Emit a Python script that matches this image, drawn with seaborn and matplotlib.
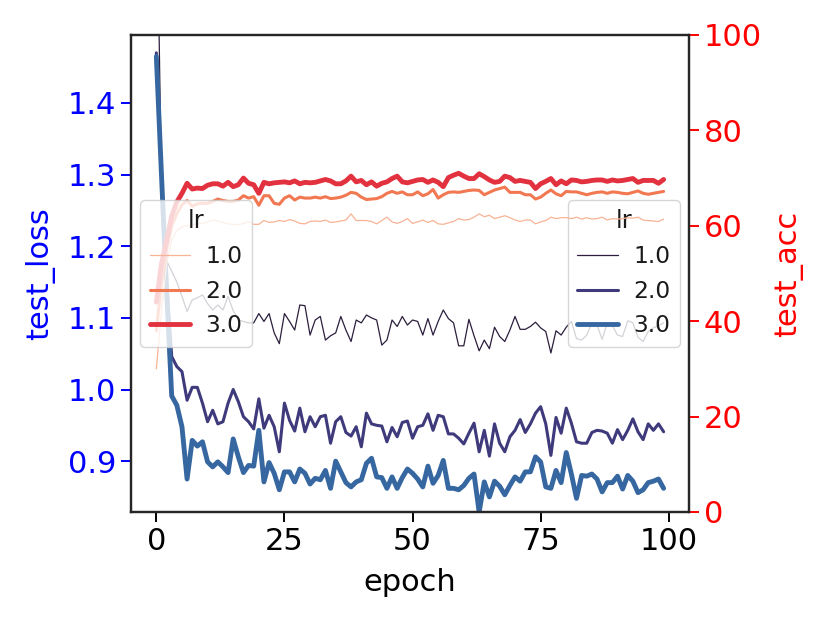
import numpy as np
import pandas as pd
import matplotlib
matplotlib.use("Agg")
import matplotlib.pyplot as plt
from matplotlib.ticker import MultipleLocator
import seaborn as sns

sns.set_theme(style="ticks")
plt.rcParams['font.family'] = ['DejaVu Sans']
plt.rcParams.update({
    'axes.linewidth': 1.6,
    'axes.edgecolor': '#262626',
    'xtick.major.size': 7, 'ytick.major.size': 7,
    'xtick.major.width': 1.4, 'ytick.major.width': 1.4,
    'xtick.labelsize': 22, 'ytick.labelsize': 22,
    'axes.labelsize': 22,
    'xtick.color': 'black', 'ytick.color': 'black',
    'axes.labelcolor': 'black', 'text.color': '#1a1a1a',
})

# ---- data ----
epochs = list(range(100))
lrs = [1.0, 2.0, 3.0]

loss_lr1 = [1.75, 1.28, 1.18, 1.165, 1.15, 1.13, 1.109, 1.125, 1.128, 1.132,
            1.12, 1.111, 1.118, 1.111, 1.13, 1.11, 1.097, 1.095, 1.093, 1.093,
            1.106, 1.095, 1.106, 1.079, 1.064, 1.106, 1.095, 1.083, 1.118, 1.117,
            1.076, 1.097, 1.102, 1.069, 1.075, 1.079, 1.102, 1.083, 1.067, 1.097,
            1.093, 1.104, 1.100, 1.097, 1.062, 1.069, 1.097, 1.088, 1.102, 1.090,
            1.097, 1.095, 1.076, 1.099, 1.076, 1.095, 1.111, 1.099, 1.093, 1.061,
            1.061, 1.098, 1.075, 1.054, 1.069, 1.057, 1.087, 1.074, 1.067, 1.083,
            1.102, 1.084, 1.084, 1.088, 1.094, 1.086, 1.081, 1.051, 1.082, 1.076,
            1.087, 1.095, 1.071, 1.069, 1.076, 1.093, 1.090, 1.070, 1.093, 1.089,
            1.076, 1.074, 1.096, 1.093, 1.073, 1.067, 1.081, 1.086, 1.089, 1.093]

loss_lr2 = [1.47, 1.30, 1.15, 1.046, 1.032, 1.025, 0.985, 1.003, 1.003, 0.981,
            0.955, 0.971, 0.952, 0.955, 0.981, 1.000, 0.983, 0.962, 0.955, 0.945,
            0.987, 0.946, 0.964, 0.948, 0.913, 0.981, 0.957, 0.942, 0.974, 0.941,
            0.962, 0.948, 0.962, 0.964, 0.925, 0.955, 0.962, 0.940, 0.935, 0.948,
            0.920, 0.967, 0.952, 0.950, 0.949, 0.927, 0.947, 0.934, 0.954, 0.956,
            0.932, 0.948, 0.950, 0.966, 0.943, 0.964, 0.962, 0.938, 0.938, 0.932,
            0.924, 0.939, 0.953, 0.913, 0.943, 0.907, 0.952, 0.925, 0.913, 0.934,
            0.943, 0.958, 0.940, 0.952, 0.967, 0.976, 0.952, 0.908, 0.961, 0.939,
            0.974, 0.953, 0.927, 0.925, 0.925, 0.940, 0.943, 0.942, 0.939, 0.925,
            0.944, 0.930, 0.943, 0.959, 0.941, 0.930, 0.952, 0.943, 0.952, 0.941]

loss_lr3 = [1.465, 1.30, 1.14, 0.991, 0.978, 0.948, 0.875, 0.929, 0.921, 0.927,
            0.899, 0.892, 0.899, 0.892, 0.884, 0.931, 0.906, 0.884, 0.894, 0.893,
            0.943, 0.871, 0.898, 0.883, 0.860, 0.885, 0.885, 0.871, 0.889, 0.883,
            0.868, 0.876, 0.874, 0.887, 0.862, 0.900, 0.885, 0.870, 0.864, 0.871,
            0.874, 0.897, 0.904, 0.878, 0.877, 0.862, 0.878, 0.862, 0.877, 0.889,
            0.883, 0.875, 0.864, 0.893, 0.869, 0.880, 0.901, 0.862, 0.862, 0.860,
            0.866, 0.876, 0.882, 0.829, 0.871, 0.850, 0.872, 0.865, 0.853, 0.866,
            0.878, 0.872, 0.885, 0.885, 0.906, 0.899, 0.864, 0.862, 0.887, 0.870,
            0.912, 0.882, 0.848, 0.880, 0.879, 0.882, 0.875, 0.857, 0.870, 0.870,
            0.879, 0.861, 0.880, 0.872, 0.856, 0.860, 0.870, 0.872, 0.875, 0.862]

acc_lr1 = [30, 42, 52, 57, 59, 59.8, 60.0, 60.2, 60.4, 60.5,
           60.8, 61.2, 61.0, 60.7, 60.4, 60.3, 60.2, 60.5, 60.9, 60.3,
           60.3, 61.1, 60.7, 60.8, 61.1, 60.9, 61.3, 61.0, 60.5, 60.4,
           60.9, 61.0, 60.9, 61.2, 60.7, 60.8, 61.0, 61.2, 62.5, 61.1,
           61.1, 61.1, 60.9, 60.4, 61.1, 61.8, 60.8, 60.5, 60.9, 61.5,
           60.5, 60.8, 61.2, 60.7, 61.1, 60.4, 60.3, 60.6, 60.9, 61.5,
           61.2, 61.3, 61.8, 62.5, 61.9, 62.2, 61.5, 61.8, 62.1, 61.7,
           61.2, 60.9, 61.2, 61.2, 60.4, 60.8, 61.1, 61.8, 61.5, 61.7,
           61.7, 61.5, 61.8, 61.4, 61.7, 61.4, 61.5, 61.8, 61.2, 61.5,
           61.4, 61.5, 61.7, 61.6, 61.8, 61.2, 61.1, 61.0, 60.9, 61.4]

acc_lr2 = [38, 48, 55, 60, 62.5, 64.4, 65.3, 64.1, 64.6, 64.7,
           64.7, 65.1, 65.6, 65.3, 65.1, 65.1, 65.4, 66.3, 65.8, 66.1,
           64.3, 66.3, 66.3, 64.7, 64.5, 65.8, 66.3, 65.4, 66.0, 65.8,
           65.8, 66.0, 65.8, 66.1, 65.7, 65.8, 66.0, 66.4, 67.0, 66.8,
           66.0, 65.5, 65.6, 65.7, 66.1, 66.8, 67.2, 66.8, 67.1, 66.5,
           66.5, 67.1, 66.3, 66.7, 67.6, 65.8, 66.5, 67.0, 67.1, 67.0,
           67.2, 67.4, 67.5, 67.4, 66.5, 67.0, 67.5, 67.8, 68.1, 67.0,
           67.0, 67.0, 66.5, 66.5, 65.6, 66.0, 66.8, 67.5, 66.7, 66.3,
           67.2, 67.1, 67.1, 66.8, 66.5, 66.8, 67.0, 67.1, 66.8, 67.1,
           67.0, 66.8, 66.7, 67.0, 67.3, 66.8, 66.6, 66.8, 67.0, 67.2]

acc_lr3 = [44, 52, 57, 62, 65, 66.8, 68.9, 67.7, 67.9, 67.8,
           68.5, 68.8, 68.8, 68.3, 69.1, 68.2, 68.6, 70.0, 68.9, 68.6,
           66.8, 69.1, 68.8, 69.0, 69.1, 69.2, 69.0, 69.4, 68.8, 69.1,
           69.0, 69.1, 69.4, 69.7, 69.4, 68.8, 68.8, 69.4, 70.4, 69.2,
           69.5, 68.6, 69.2, 68.3, 68.9, 69.2, 69.9, 70.4, 69.2, 69.0,
           69.3, 69.6, 69.7, 69.1, 69.6, 69.1, 68.2, 70.1, 70.6, 71.0,
           70.4, 69.9, 69.9, 70.9, 70.3, 69.6, 69.1, 69.3, 70.4, 70.1,
           69.3, 69.5, 69.3, 69.1, 67.8, 68.8, 69.3, 69.9, 68.6, 69.4,
           68.8, 69.6, 69.5, 69.2, 69.3, 69.5, 69.6, 69.6, 69.3, 69.6,
           69.4, 69.5, 69.7, 69.9, 69.1, 69.5, 69.5, 69.5, 68.9, 69.7]

loss_colors = {1.0: "#2c1e3d", 2.0: "#3e3a7b", 3.0: "#3667a0"}
acc_colors = {1.0: "#f8b395", 2.0: "#f27852", 3.0: "#e3323f"}
line_sizes = {1.0: 0.9, 2.0: 2.2, 3.0: 3.5}

df = pd.DataFrame({
    'epoch': epochs * 3,
    'lr': np.repeat(lrs, len(epochs)),
    'test_loss': loss_lr1 + loss_lr2 + loss_lr3,
    'test_acc': acc_lr1 + acc_lr2 + acc_lr3,
})

leg_kw = dict(fontsize=16.8, title_fontsize=17.5, handlelength=1.75,
              handletextpad=0.65, borderaxespad=0.4)

fig = plt.figure(figsize=(8.3, 6.23), dpi=100)
ax1 = fig.add_axes([0.1578, 0.1782, 0.6723, 0.7657])

sns.lineplot(data=df, x='epoch', y='test_loss', hue='lr', size='lr',
             palette=loss_colors, sizes=line_sizes, legend='full', ax=ax1)
ax1.set_ylim(0.829, 1.495)
ax1.xaxis.set_major_locator(MultipleLocator(25))
ax1.set_ylabel('test_loss', color='blue', labelpad=9.5)
ax1.tick_params(axis='y', colors='blue')
ax1.set_xlabel('epoch', labelpad=9)
sns.move_legend(ax1, 'center right', **leg_kw)

ax2 = ax1.twinx()
sns.lineplot(data=df, x='epoch', y='test_acc', hue='lr', size='lr',
             palette=acc_colors, sizes=line_sizes, legend='full', ax=ax2)
ax2.set_ylim(0, 100)
ax2.set_ylabel('test_acc', color='red', labelpad=9)
ax2.tick_params(axis='y', colors='red')
sns.move_legend(ax2, 'center left', **leg_kw)

fig.savefig('out.png', dpi=100)
